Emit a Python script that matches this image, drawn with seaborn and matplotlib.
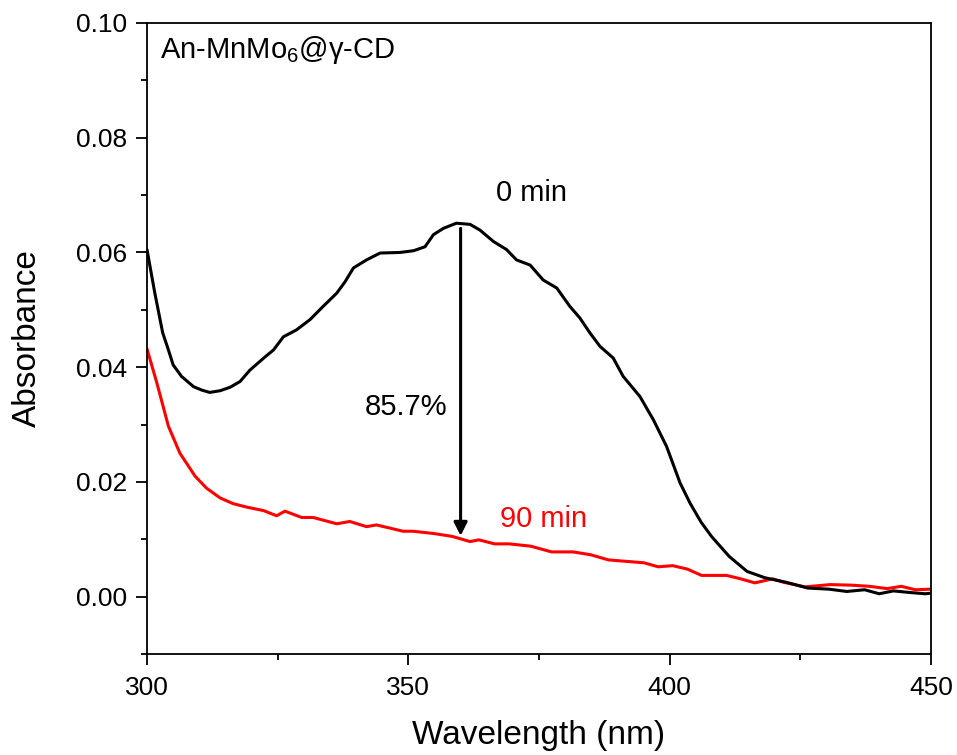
import matplotlib
matplotlib.use("Agg")
import matplotlib.pyplot as plt
from matplotlib.ticker import MultipleLocator
import seaborn as sns
import pandas as pd

# ---- data ----
wl_0min = [300, 301.5, 303, 304.1, 305, 306.6, 308.9, 310.5, 312, 314, 315.9, 317.8,
           319.7, 322.6, 324.2, 326.1, 328.6, 331.2, 333.7, 336.3, 337.9, 339.5, 342,
           344.6, 348.4, 351, 353.2, 354.8, 356.7, 359.2, 361.8, 363.7, 366.3, 368.8,
           370.7, 373.3, 375.8, 378.4, 380.9, 382.8, 384.8, 386.7, 389.2, 391.1, 394.3,
           396.9, 399.4, 402, 403.9, 406, 408, 411.4, 414.8, 418.2, 422.3, 426.4, 430.5,
           433.9, 437.3, 440.1, 442.8, 446.2, 448.9, 450]
abs_0min = [0.0605, 0.0529, 0.0460, 0.0430, 0.0404, 0.0384, 0.0366, 0.0360, 0.0356,
            0.0359, 0.0365, 0.0375, 0.0395, 0.0418, 0.0430, 0.0453, 0.0465, 0.0483,
            0.0506, 0.0529, 0.0549, 0.0573, 0.0587, 0.0599, 0.0600, 0.0603, 0.0610,
            0.0631, 0.0642, 0.0651, 0.0649, 0.0639, 0.0619, 0.0605, 0.0587, 0.0578,
            0.0552, 0.0538, 0.0506, 0.0486, 0.0459, 0.0436, 0.0416, 0.0384, 0.0349,
            0.0308, 0.0262, 0.0198, 0.0163, 0.0130, 0.0105, 0.0070, 0.0044, 0.0033,
            0.0025, 0.0015, 0.0013, 0.0009, 0.0012, 0.0005, 0.0010, 0.0007, 0.0005,
            0.0006]

wl_90min = [300, 301.9, 304.1, 306.3, 309.2, 311.4, 314, 316.5, 319.1, 322.3, 324.8,
            326.4, 329.6, 331.8, 336.3, 338.8, 342, 343.9, 349, 350.9, 354.9, 358.4,
            361.8, 363.5, 366.5, 369.3, 373.4, 377.4, 381.5, 384.9, 388.3, 392.4, 395.1,
            397.8, 400.6, 403.4, 406.1, 410.9, 413.6, 416.3, 419.7, 421.8, 425.9, 430.7,
            434.8, 438.2, 441.6, 444.3, 447, 449.9]
abs_90min = [0.0432, 0.0372, 0.0297, 0.0250, 0.0210, 0.0189, 0.0172, 0.0162, 0.0156,
             0.0150, 0.0141, 0.0149, 0.0138, 0.0138, 0.0127, 0.0131, 0.0122, 0.0125,
             0.0114, 0.0114, 0.0110, 0.0105, 0.0096, 0.0099, 0.0092, 0.0092, 0.0088,
             0.0078, 0.0078, 0.0073, 0.0064, 0.0061, 0.0059, 0.0052, 0.0054, 0.0048,
             0.0037, 0.0037, 0.0031, 0.0024, 0.0031, 0.0025, 0.0017, 0.0021, 0.0020,
             0.0018, 0.0014, 0.0018, 0.0012, 0.0013]

series_labels = ["0 min", "90 min"]
series_colors = ["#000000", "#ff0000"]
sample_label = "An-MnMo$_6$@\u03b3-CD"
decrease_label = "85.7%"
x_ticks = [300, 350, 400, 450]
y_ticks = [0.00, 0.02, 0.04, 0.06, 0.08, 0.10]

# ---- style ----
sns.set_theme(style="ticks")
plt.rcParams["font.family"] = ["Liberation Sans", "DejaVu Sans"]
plt.rcParams["mathtext.fontset"] = "custom"
plt.rcParams["mathtext.rm"] = "Liberation Sans"
plt.rcParams["mathtext.it"] = "Liberation Sans:italic"
plt.rcParams["mathtext.bf"] = "Liberation Sans:bold"

fig = plt.figure(figsize=(9.57, 7.55), dpi=100)
ax = fig.add_axes([147 / 957, 1 - 654 / 755, (931 - 147) / 957, (654 - 23) / 755])

df0 = pd.DataFrame({"Wavelength": wl_0min, "Absorbance": abs_0min})
df90 = pd.DataFrame({"Wavelength": wl_90min, "Absorbance": abs_90min})
sns.lineplot(data=df0, x="Wavelength", y="Absorbance", color=series_colors[0],
             linewidth=2.2, ax=ax, zorder=3)
sns.lineplot(data=df90, x="Wavelength", y="Absorbance", color=series_colors[1],
             linewidth=2.2, ax=ax, zorder=2)

ax.set_xlim(300, 450)
ax.set_ylim(-0.01, 0.10)
ax.set_xticks(x_ticks)
ax.set_yticks(y_ticks)
ax.set_xticklabels([str(t) for t in x_ticks])
ax.set_yticklabels([f"{t:.2f}" for t in y_ticks])
ax.xaxis.set_minor_locator(MultipleLocator(25))
ax.yaxis.set_minor_locator(MultipleLocator(0.01))
ax.tick_params(which="major", direction="out", length=8, width=1.3, labelsize=19,
               color="black", labelcolor="black", top=False, right=False)
ax.tick_params(axis="x", which="major", pad=8)
ax.tick_params(axis="y", which="major", pad=6)
ax.tick_params(which="minor", direction="out", length=4, width=1.3,
               color="black", top=False, right=False)
for s in ax.spines.values():
    s.set_visible(True)
    s.set_linewidth(1.3)
    s.set_color("black")

ax.set_xlabel("Wavelength (nm)", fontsize=24, color="black", labelpad=14)
ax.set_ylabel("Absorbance", fontsize=24, color="black", labelpad=24)

# annotations
ax.text(302.4, 0.0953, sample_label, fontsize=21, color="black", ha="left", va="center")
ax.text(366.8, 0.0704, series_labels[0], fontsize=21, color=series_colors[0],
        ha="left", va="center")
ax.text(367.6, 0.0136, series_labels[1], fontsize=21, color=series_colors[1],
        ha="left", va="center")
ax.text(357.4, 0.0331, decrease_label, fontsize=21, color="black", ha="right", va="center")
ax.annotate("", xy=(360, 0.0106), xytext=(360, 0.0642),
            arrowprops=dict(arrowstyle="-|>", color="black", lw=2.2,
                            mutation_scale=20, shrinkA=0, shrinkB=0))

fig.savefig("out.png", dpi=100, facecolor="white")
